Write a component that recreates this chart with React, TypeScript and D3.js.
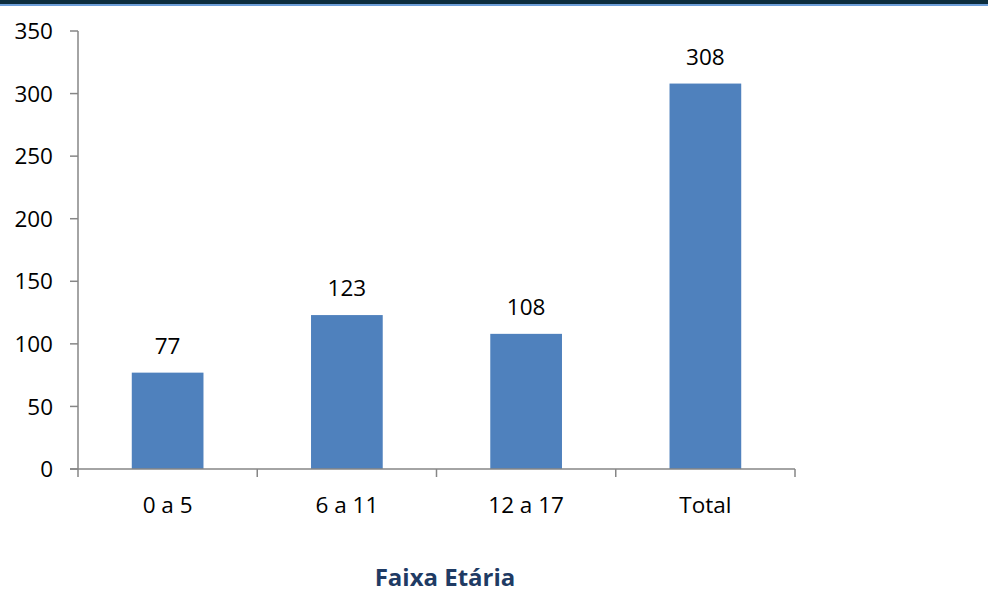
import React from "react";
import * as d3 from "d3";

const categories = ["0 a 5", "6 a 11", "12 a 17", "Total"];
const values = [77, 123, 108, 308];
const yTicks = [0, 50, 100, 150, 200, 250, 300, 350];
const axisTitle = "Faixa Etária";

export default function App() {
  const W = 988, H = 602;
  const left = 78, right = 795, top = 31, bottom = 469;
  const x = d3.scaleBand<string>().domain(categories).range([left, right]).paddingInner(0.6).paddingOuter(0.3);
  const band = d3.scaleBand<string>().domain(categories).range([left, right]);
  const y = d3.scaleLinear().domain([0, 350]).range([bottom, top]);
  const axisColor = "#868686";
  const font = "'Open Sans', sans-serif";
  const fs = 22.5;
  const boundaries = categories.map((c) => band(c)!).concat([right]);
  return (
    <svg width={W} height={H} style={{ position: "absolute", left: 0, top: 0, background: "#fff" }}>
      <rect x={0} y={0} width={W} height={4} fill="#0c2d3d" />
      <rect x={0} y={4} width={W} height={2} fill="#6e9fd9" />
      {values.map((v, i) => (
        <rect key={i} x={x(categories[i])} y={y(v)} width={x.bandwidth()} height={bottom - y(v)} fill="#4f81bd" />
      ))}
      {values.map((v, i) => (
        <text key={"l" + i} x={x(categories[i])! + x.bandwidth() / 2} y={y(v) - 19} textAnchor="middle" fontFamily={font} fontSize={fs} fill="#000">{v}</text>
      ))}
      <line x1={left} x2={left} y1={top} y2={bottom} stroke={axisColor} strokeWidth={1.5} />
      {yTicks.map((t) => (
        <g key={t}>
          <line x1={left - 8} x2={left} y1={y(t)} y2={y(t)} stroke={axisColor} strokeWidth={1.5} />
          <text x={53} y={y(t)} dy="0.36em" textAnchor="end" fontFamily={font} fontSize={fs} fill="#000">{t}</text>
        </g>
      ))}
      <line x1={left - 8} x2={right} y1={bottom} y2={bottom} stroke={axisColor} strokeWidth={1.5} />
      {boundaries.map((b, i) => (
        <line key={"t" + i} x1={b} x2={b} y1={bottom} y2={bottom + 8} stroke={axisColor} strokeWidth={1.5} />
      ))}
      {categories.map((c) => (
        <text key={c} x={band(c)! + band.bandwidth() / 2} y={513} textAnchor="middle" fontFamily={font} fontSize={fs} fill="#000">{c}</text>
      ))}
      <text x={445} y={586} textAnchor="middle" fontFamily={font} fontSize={24} fontWeight="bold" fill="#1f3b64">{axisTitle}</text>
    </svg>
  );
}
